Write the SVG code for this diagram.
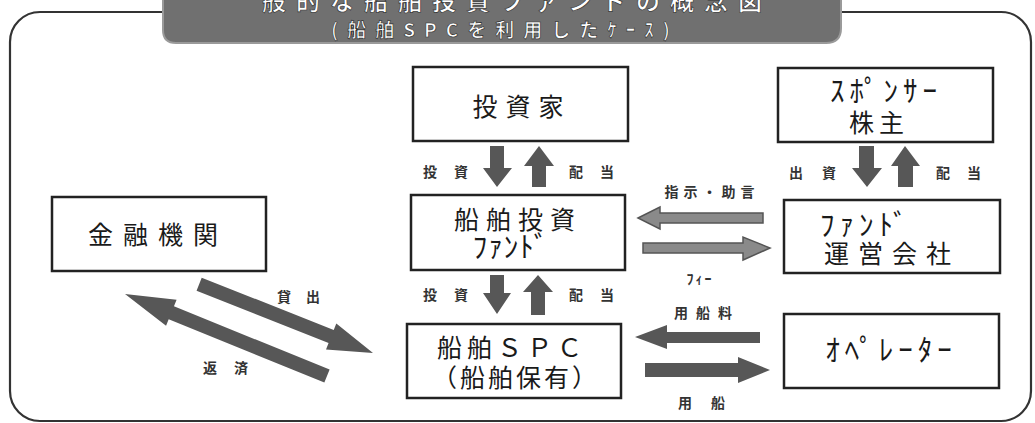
<svg xmlns="http://www.w3.org/2000/svg" width="1035" height="423" viewBox="0 0 1035 423">
<style>
.box{fill:#fff;stroke:#222;stroke-width:2.5}
.bt{font-family:"Noto Sans CJK JP","Noto Sans",sans-serif;font-size:25px;fill:#1a1a1a;text-anchor:middle}
.hk{font-size:29px}
.lb{font-family:"Noto Sans CJK JP","Noto Sans",sans-serif;font-size:14px;font-weight:bold;fill:#333;text-anchor:middle}
.ar{fill:#575757}
.ah{fill:#8a8a8a;stroke:#555;stroke-width:1.5}
.tt{font-family:"Noto Sans CJK JP","Noto Sans",sans-serif;font-weight:bold;fill:#fff;stroke:#333;stroke-width:0.7;text-anchor:middle}
</style>
<rect width="1035" height="423" fill="#fff"/>
<rect x="10" y="12" width="1021" height="409" rx="30" ry="30" fill="none" stroke="#333" stroke-width="2.2"/>
<g id="title">
<path d="M163,-5 H841 V28 Q841,43 826,43 H176 Q163,43 163,30 Z" fill="#707070" stroke="#9a9a9a" stroke-width="2"/>
<text class="tt" x="517" y="10" font-size="24" letter-spacing="10">般的な船舶投資ファンドの概念図</text>
<text class="tt" x="505" y="37" font-size="19" letter-spacing="9">(船舶SPCを利用したｹｰｽ)</text>
</g>
<g id="n-investor"><rect class="box" x="413" y="67" width="215" height="74"/><text class="bt" x="522" y="116" letter-spacing="8">投資家</text></g>
<g id="n-fund"><rect class="box" x="411" y="195" width="214" height="75"/><text class="bt" x="518" y="229" letter-spacing="7">船舶投資</text><text class="bt hk" x="511" y="258" letter-spacing="1">ﾌｧﾝﾄﾞ</text></g>
<g id="n-sponsor"><rect class="box" x="778" y="68" width="215" height="74"/><text class="bt hk" x="886" y="102" letter-spacing="5">ｽﾎﾟﾝｻｰ</text><text class="bt" x="879" y="132" letter-spacing="5">株主</text></g>
<g id="n-manager"><rect class="box" x="784" y="200" width="216" height="73"/><text class="bt hk" x="820" y="236" letter-spacing="5" style="text-anchor:start">ﾌｧﾝﾄﾞ</text><text class="bt" x="892" y="263" font-size="28" letter-spacing="9">運営会社</text></g>
<g id="n-bank"><rect class="box" x="52" y="197" width="214" height="74"/><text class="bt" x="158" y="244" letter-spacing="10">金融機関</text></g>
<g id="n-spc"><rect class="box" x="407" y="324" width="214" height="74"/><text class="bt" x="512" y="357" letter-spacing="5">船舶ＳＰＣ</text><text class="bt" x="516" y="387" letter-spacing="3">（船舶保有）</text></g>
<g id="n-operator"><rect class="box" x="784" y="314" width="215" height="74"/><text class="bt hk" x="891" y="361" letter-spacing="5">ｵﾍﾟﾚｰﾀｰ</text></g>
<g id="connectors">
<polygon class="ar" points="490,146 504,146 504,168 512,168 497,187 483,168 490,168"/>
<polygon class="ar" points="532,187 546,187 546,166 554,166 539,146 524,166 532,166"/>
<polygon class="ar" points="490,275 504,275 504,293 511,293 497,314 483,293 490,293"/>
<polygon class="ar" points="531,315 545,315 545,292 553,292 538,275 523,292 531,292"/>
<polygon class="ar" points="859,146 874,146 874,168 882,168 867,187 852,168 859,168"/>
<polygon class="ar" points="898,187 913,187 913,166 920,166 905,146 891,166 898,166"/>
<polygon class="ah" points="638,218 660,207 660,213 763,213 763,223 660,223 660,229"/>
<polygon class="ah" points="643,243 743,243 743,237 770,248 743,260 743,253 643,253"/>
<polygon class="ar" points="635,337 667,325 667,332 760,332 760,343 667,343 667,349"/>
<polygon class="ar" points="645,363 738,363 738,357 770,370 738,383 738,377 645,377"/>
<polygon class="ar" transform="translate(373,353) rotate(201.6)" points="0,0 45,-14 45,-7 187,-7 187,7 45,7 45,14"/>
<polygon class="ar" transform="translate(125,294) rotate(22.1)" points="0,0 50,-14 50,-7 218,-7 218,7 50,7 50,14"/>
<text class="lb" x="454" y="177" letter-spacing="17">投資</text>
<text class="lb" x="600" y="177" letter-spacing="17">配当</text>
<text class="lb" x="454" y="300" letter-spacing="17">投資</text>
<text class="lb" x="600" y="300" letter-spacing="17">配当</text>
<text class="lb" x="822" y="178" letter-spacing="19">出資</text>
<text class="lb" x="967" y="178" letter-spacing="17">配当</text>
<text class="lb" x="712" y="197" letter-spacing="5">指示・助言</text>
<text class="lb" x="700" y="284" font-size="16" letter-spacing="2">ﾌｨｰ</text>
<text class="lb" x="707" y="318" letter-spacing="8">用船料</text>
<text class="lb" x="711" y="408" letter-spacing="19">用船</text>
<text class="lb" x="306" y="302" letter-spacing="15">貸出</text>
<text class="lb" x="234" y="373" letter-spacing="17">返済</text>
</g>
</svg>
